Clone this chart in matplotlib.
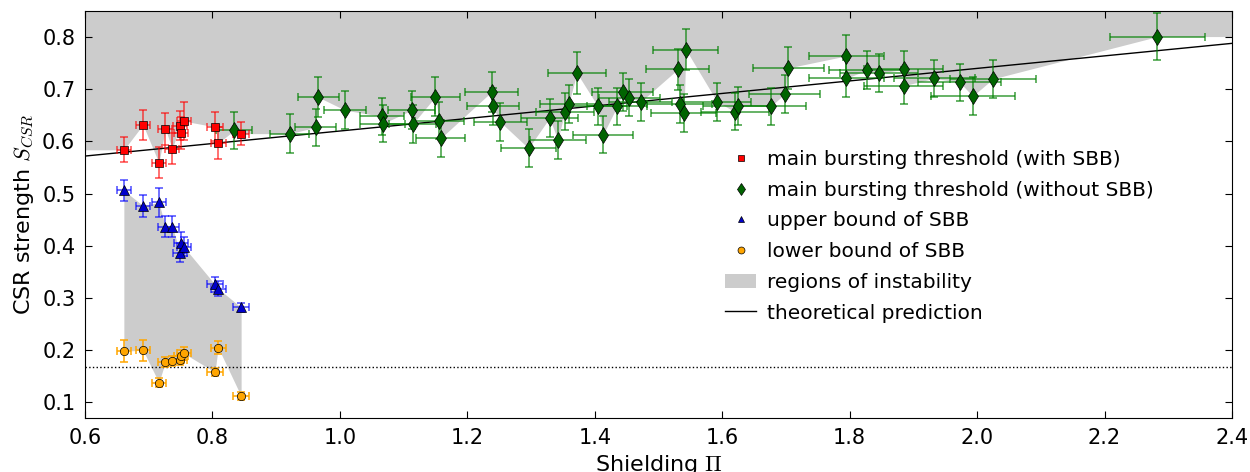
import numpy as np
import matplotlib
matplotlib.use("Agg")
import matplotlib.pyplot as plt
from matplotlib.patches import Patch
from matplotlib.lines import Line2D

plt.rcParams['font.family'] = ['DejaVu Sans']
plt.rcParams['mathtext.fontset'] = 'cm'

# ---- data ----
# SBB cases (shared shielding values)
x_sbb = [0.661, 0.691, 0.716, 0.726, 0.737, 0.749, 0.751, 0.755, 0.804, 0.809, 0.845]
x_sbb_err = [0.011, 0.011, 0.011, 0.011, 0.011, 0.011, 0.011, 0.011, 0.012, 0.012, 0.012]
red_y = [0.584, 0.632, 0.559, 0.624, 0.586, 0.630, 0.616, 0.639, 0.628, 0.597, 0.615]
red_yerr = [0.024, 0.029, 0.030, 0.030, 0.030, 0.028, 0.030, 0.036, 0.028, 0.030, 0.022]
blue_y = [0.506, 0.477, 0.483, 0.437, 0.437, 0.387, 0.406, 0.398, 0.326, 0.318, 0.282]
blue_yerr = [0.021, 0.021, 0.027, 0.020, 0.020, 0.018, 0.020, 0.018, 0.014, 0.014, 0.008]
orange_y = [0.198, 0.200, 0.138, 0.177, 0.179, 0.181, 0.188, 0.194, 0.158, 0.205, 0.112]
orange_yerr = [0.021, 0.020, 0.008, 0.010, 0.010, 0.010, 0.012, 0.012, 0.008, 0.012, 0.008]

# main bursting threshold without SBB
x_green = [0.834, 0.921, 0.962, 0.966, 1.008, 1.066, 1.067, 1.113, 1.114, 1.150,
           1.156, 1.158, 1.238, 1.240, 1.252, 1.296, 1.329, 1.342, 1.353, 1.359,
           1.372, 1.405, 1.413, 1.435, 1.444, 1.454, 1.472, 1.530, 1.533, 1.540,
           1.543, 1.592, 1.620, 1.624, 1.676, 1.698, 1.704, 1.795, 1.795, 1.827,
           1.846, 1.885, 1.885, 1.933, 1.973, 1.993, 2.025, 2.283]
y_green = [0.621, 0.615, 0.627, 0.685, 0.660, 0.648, 0.634, 0.660, 0.633, 0.686,
           0.640, 0.606, 0.695, 0.667, 0.637, 0.587, 0.645, 0.603, 0.657, 0.672,
           0.731, 0.667, 0.613, 0.667, 0.695, 0.684, 0.676, 0.738, 0.672, 0.655,
           0.776, 0.676, 0.657, 0.668, 0.667, 0.691, 0.741, 0.764, 0.721, 0.737,
           0.731, 0.738, 0.707, 0.721, 0.713, 0.687, 0.720, 0.801]
x_green_err = [0.028, 0.030, 0.032, 0.032, 0.033, 0.035, 0.035, 0.037, 0.037, 0.038,
               0.038, 0.038, 0.041, 0.041, 0.041, 0.043, 0.044, 0.044, 0.045, 0.045,
               0.045, 0.046, 0.047, 0.047, 0.048, 0.048, 0.049, 0.050, 0.051, 0.051,
               0.051, 0.053, 0.053, 0.054, 0.055, 0.056, 0.056, 0.059, 0.059, 0.060,
               0.061, 0.062, 0.062, 0.064, 0.065, 0.066, 0.067, 0.075]
y_green_err = [0.036, 0.038, 0.036, 0.038, 0.036, 0.036, 0.036, 0.036, 0.036, 0.038,
               0.036, 0.036, 0.038, 0.036, 0.036, 0.036, 0.036, 0.036, 0.036, 0.036,
               0.040, 0.036, 0.036, 0.036, 0.036, 0.036, 0.036, 0.040, 0.036, 0.036,
               0.040, 0.036, 0.036, 0.036, 0.036, 0.036, 0.040, 0.040, 0.036, 0.036,
               0.036, 0.036, 0.036, 0.036, 0.036, 0.036, 0.036, 0.045]

# theoretical prediction (end points)
theory_x = [0.6, 2.4]
theory_y = [0.572, 0.788]
dotted_level = 0.168

xlim = (0.6, 2.4)
ylim = (0.07, 0.85)

# ---- figure ----
fig = plt.figure(figsize=(12.5, 4.72), dpi=100)
ax = fig.add_axes([0.068, 0.1144, 0.9176, 0.8623])

# region of instability above main threshold
xm = np.array(x_sbb + x_green)
ym = np.array(red_y + y_green)
order = np.argsort(xm, kind='stable')
xm, ym = xm[order], ym[order]
xf = np.concatenate([[xlim[0]], xm, [xlim[1]]])
yf = np.concatenate([[ym[0]], ym, [ym[-1]]])
ax.fill_between(xf, yf, ylim[1], color='#cccccc', lw=0, zorder=1)

# SBB region
ax.fill_between(x_sbb, orange_y, blue_y, color='#cccccc', lw=0, zorder=1)

ax.plot(theory_x, theory_y, color='k', lw=1.0, zorder=2)
ax.axhline(dotted_level, color='k', ls=':', lw=1.0, zorder=2)

def draw(x, y, xe, ye, color, ecol, marker, ms):
    ax.errorbar(x, y, xerr=xe, yerr=ye, fmt='none', ecolor=ecol, elinewidth=1.3,
                capsize=3, capthick=1.3, zorder=3)
    ax.plot(x, y, ls='none', marker=marker, color=color, ms=ms, mec='k', mew=0.5, zorder=4)

draw(x_green, y_green, x_green_err, y_green_err, '#006400', (0.0, 0.5, 0.0, 0.65), 'd', 8)
draw(x_sbb, red_y, x_sbb_err, red_yerr, 'r', (1.0, 0.0, 0.0, 0.6), 's', 6)
draw(x_sbb, blue_y, x_sbb_err, blue_yerr, '#0000cc', (0.0, 0.0, 1.0, 0.6), '^', 6.5)
draw(x_sbb, orange_y, x_sbb_err, orange_yerr, 'orange', (1.0, 0.65, 0.0, 0.85), 'o', 6)

ax.set_xlim(*xlim)
ax.set_ylim(*ylim)
ax.set_xticks(np.arange(0.6, 2.41, 0.2))
ax.set_yticks(np.arange(0.1, 0.81, 0.1))
ax.tick_params(direction='in', top=True, right=True, labelsize=15, length=5, pad=7)
ax.set_xlabel(r'Shielding $\Pi$', fontsize=16, labelpad=4)
ax.set_ylabel(r'CSR strength $S_{CSR}$', fontsize=16)

handles = [
    Line2D([], [], ls='none', marker='s', color='r', mec='k', mew=0.5, ms=5),
    Line2D([], [], ls='none', marker='d', color='#006400', mec='k', mew=0.5, ms=6),
    Line2D([], [], ls='none', marker='^', color='#0000cc', mec='k', mew=0.5, ms=5),
    Line2D([], [], ls='none', marker='o', color='orange', mec='k', mew=0.5, ms=5),
    Patch(facecolor='#cccccc', edgecolor='none'),
    Line2D([], [], color='k', lw=1.0),
]
labels = ['main bursting threshold (with SBB)', 'main bursting threshold (without SBB)',
          'upper bound of SBB', 'lower bound of SBB', 'regions of instability',
          'theoretical prediction']
ax.legend(handles, labels, loc='upper left', bbox_to_anchor=(0.551, 0.678), frameon=False,
          fontsize=14.5, handlelength=1.55, handletextpad=0.55, labelspacing=0.58,
          borderaxespad=0)

fig.savefig('out.png', dpi=100, facecolor='white')
